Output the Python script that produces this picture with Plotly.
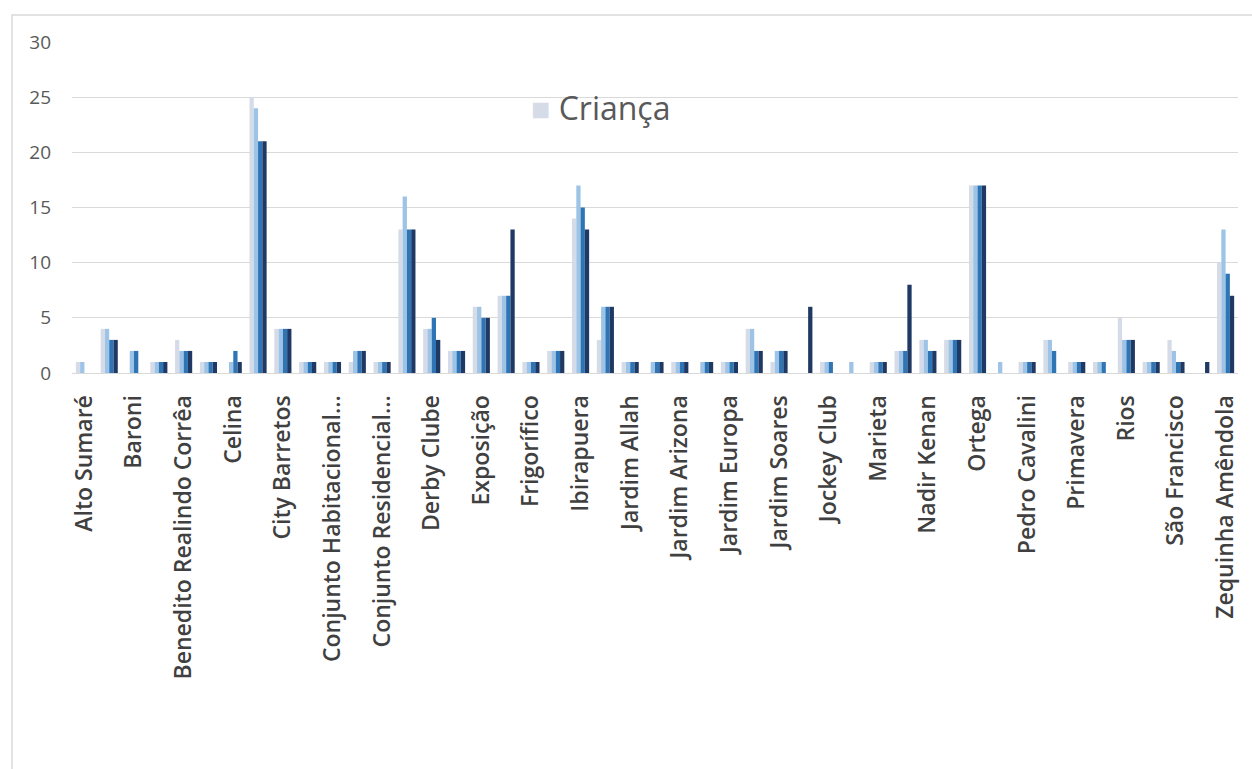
import plotly.graph_objects as go

# Bairros (ordem alfabética); apenas um a cada dois recebe rótulo no eixo
bairros = [
    "Alto Sumaré", "América", "Baroni", "Barretos II", "Benedito Realindo Corrêa",
    "Bom Jesus", "Celina", "Centro", "City Barretos", "Cohab",
    "Conjunto Habitacional...", "Conjunto Popular", "Conjunto Residencial...",
    "Cristiano de Carvalho", "Derby Clube", "Dom Bosco", "Exposição", "Fortaleza",
    "Frigorífico", "Guarani", "Ibirapuera", "Ipiranga", "Jardim Allah",
    "Jardim América", "Jardim Arizona", "Jardim Califórnia", "Jardim Europa",
    "Jardim Paulista", "Jardim Soares", "Jardim Universitário", "Jockey Club",
    "Los Angeles", "Marieta", "Monte Alegre", "Nadir Kenan", "Nova Barretos",
    "Ortega", "Paulo Prata", "Pedro Cavalini", "Planalto", "Primavera",
    "Residencial Alvorada", "Rios", "Santa Cecília", "São Francisco",
    "Vila Nogueira", "Zequinha Amêndola",
]

crianca = [1, 4, 0, 1, 3, 1, 0, 25, 4, 1, 1, 1, 1, 13, 4, 2, 6, 7, 1, 2, 14, 3, 1, 0,
           1, 0, 1, 4, 1, 0, 1, 0, 1, 2, 3, 3, 17, 0, 1, 3, 1, 1, 5, 1, 3, 0, 10]
serie_2 = [1, 4, 2, 1, 2, 1, 1, 24, 4, 1, 1, 2, 1, 16, 4, 2, 6, 7, 1, 2, 17, 6, 1, 1,
           1, 1, 1, 4, 2, 0, 1, 1, 1, 2, 3, 3, 17, 1, 1, 3, 1, 1, 3, 1, 2, 0, 13]
serie_3 = [0, 3, 2, 1, 2, 1, 2, 21, 4, 1, 1, 2, 1, 13, 5, 2, 5, 7, 1, 2, 15, 6, 1, 1,
           1, 1, 1, 2, 2, 0, 1, 0, 1, 2, 2, 3, 17, 0, 1, 2, 1, 1, 3, 1, 1, 0, 9]
serie_4 = [0, 3, 0, 1, 2, 1, 1, 21, 4, 1, 1, 2, 1, 13, 3, 2, 5, 13, 1, 2, 13, 6, 1, 1,
           1, 1, 1, 2, 2, 6, 0, 0, 1, 8, 2, 3, 17, 0, 1, 0, 1, 0, 3, 1, 1, 1, 7]

series = [
    ("Criança", crianca, "#d5dce8"),
    ("Adolescente", serie_2, "#9dc3e6"),
    ("Adulto", serie_3, "#2e75b6"),
    ("Idoso", serie_4, "#1f3864"),
]

fig = go.Figure()
for nome, valores, cor in series:
    fig.add_trace(go.Bar(
        x=bairros, y=valores, name=nome, marker_color=cor,
        marker_line_width=0, showlegend=False,
    ))

W, H = 1252, 769
L, R, T, B = 72, 14, 42, 396
pw, ph = W - L - R, H - T - B


def px(x):
    return (x - L) / pw


def py(y):
    return (H - B - y) / ph


# Legenda da primeira série: quadrado grande + nome
legenda_nome, _, legenda_cor = series[0]

fig.update_layout(
    width=W, height=H,
    margin=dict(l=L, r=R, t=T, b=B, pad=0),
    paper_bgcolor="white", plot_bgcolor="white",
    barmode="group", bargap=0.31, bargroupgap=0,
    font=dict(family="Open Sans", color="#595959"),
    xaxis=dict(
        type="category", tickangle=-90,
        tickvals=bairros[::2], ticktext=bairros[::2],
        tickfont=dict(size=23, color="#404040", family="Open Sans", weight=600),
        showgrid=False, showline=True, linecolor="#d9d9d9", linewidth=1,
        ticks="", ticklabelstandoff=12,
    ),
    yaxis=dict(
        range=[0, 30], tickvals=[0, 5, 10, 15, 20, 25, 30],
        tickfont=dict(size=19, color="#595959", family="Open Sans"),
        showgrid=True, gridcolor="#d9d9d9", gridwidth=1,
        zeroline=False, showline=False, ticks="", ticklabelstandoff=20,
    ),
    annotations=[dict(
        xref="paper", yref="paper", x=px(529), y=py(107),
        xanchor="left", yanchor="middle", showarrow=False,
        text=f"<span style='color:{legenda_cor}'>■</span> {legenda_nome}",
        font=dict(size=32, color="#595959", family="Open Sans"),
    )],
    shapes=[dict(
        type="rect", xref="paper", yref="paper",
        x0=px(12), x1=px(1270), y0=py(15), y1=py(790),
        line=dict(color="#d9d9d9", width=1.5), fillcolor="rgba(0,0,0,0)",
        layer="below",
    )],
)

fig.write_html("out.html")
